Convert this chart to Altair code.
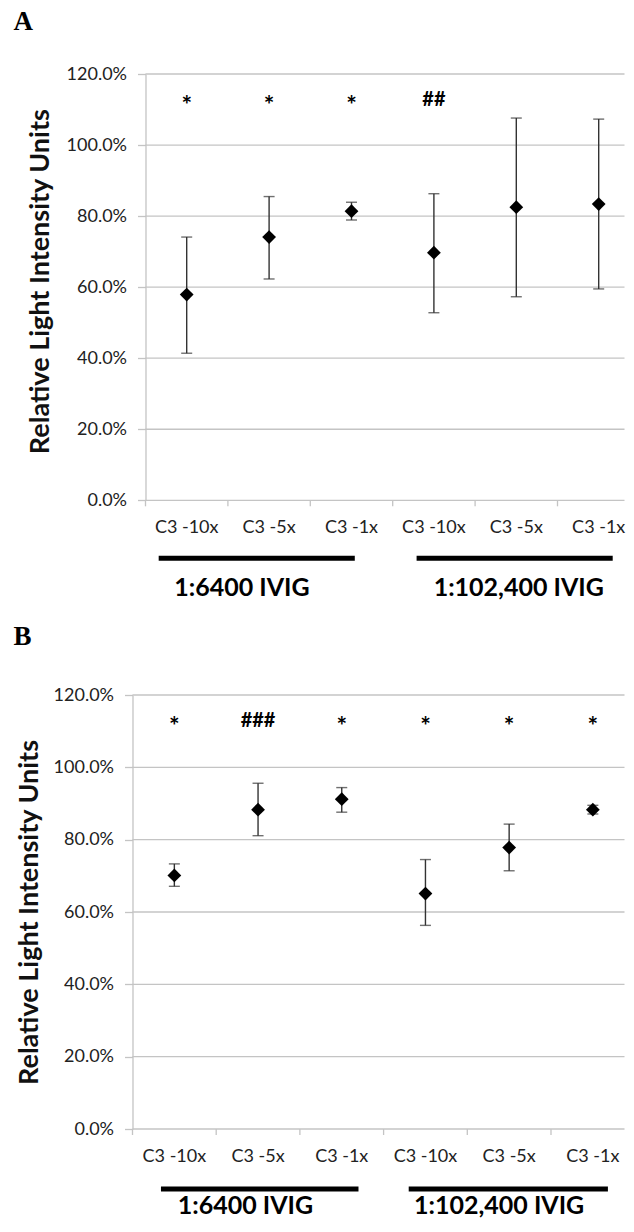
import altair as alt
import pandas as pd

LEVELS = ["C3 -10x", "C3 -5x", "C3 -1x"]
GROUPS = ["1:6400 IVIG", "1:102,400 IVIG"]

A_MEAN = [0.579, 0.741, 0.814, 0.697, 0.825, 0.834]
A_HIGH = [0.741, 0.855, 0.839, 0.863, 1.076, 1.073]
A_LOW = [0.414, 0.623, 0.789, 0.528, 0.573, 0.595]
A_MARK = ["*", "*", "*", "##", "", ""]

B_MEAN = [0.701, 0.883, 0.912, 0.651, 0.778, 0.883]
B_HIGH = [0.733, 0.956, 0.944, 0.745, 0.843, 0.895]
B_LOW = [0.671, 0.811, 0.876, 0.563, 0.714, 0.871]
B_MARK = ["*", "###", "*", "*", "*", "*"]

Y_TICKS = [0.0, 0.2, 0.4, 0.6, 0.8, 1.0, 1.2]
Y_TITLE = "Relative Light Intensity Units"
MARK_LEVEL = 1.13

KEYS = [f"{g}|{l}" for g in GROUPS for l in LEVELS]
KEY_LEVELS = [l for g in GROUPS for l in LEVELS]

GRID = "#c4c4c4"
ERR = "#333333"
FONT = "Lato"
W = 492


def panel(letter, mean, high, low, marks, shift, band, height, ytitle_x,
          ytitle_dy, bar_gap, label_gap, title_offset, bar_lead, bar_trail,
          label_at):
    df = pd.DataFrame({"key": KEYS, "level": KEY_LEVELS, "mean": mean,
                       "high": high, "low": low, "mark": marks})
    grid_df = pd.DataFrame({"v": Y_TICKS})
    grp_df = pd.DataFrame({"group": GROUPS, "first": [0, 3], "last": [2, 5],
                           "lead": bar_lead, "trail": bar_trail,
                           "at": label_at})

    xr = [shift, shift + 6 * band]
    bscale = alt.Scale(type="band", domain=KEYS, range=xr,
                       paddingInner=0, paddingOuter=0)
    qscale = alt.Scale(domain=[0, 6], range=xr, nice=False, zero=False)
    yscale = alt.Scale(domain=[0, 1.2], nice=False, zero=True)

    yaxis = alt.Axis(values=Y_TICKS, format=".1%", grid=False, offset=-shift,
                     domainColor=GRID, domainWidth=1.3, tickColor=GRID,
                     tickWidth=1.3, tickSize=8, labelFont=FONT,
                     labelFontSize=18, labelColor="#222222", labelPadding=11,
                     titleFont=FONT, titleFontSize=27, titleFontWeight="bold",
                     titleColor="#111111", titleX=ytitle_x,
                     titleY=height / 2 + ytitle_dy, titleBaseline="middle",
                     titleAlign="center", titleAngle=270)

    def Y(field):
        return alt.Y(field, scale=yscale, axis=yaxis, title=Y_TITLE)

    xb = alt.X("key:N", scale=bscale, axis=None)

    grid = alt.Chart(grid_df).mark_rule(color=GRID, strokeWidth=1.3).encode(
        x=alt.XDatum(0, type="quantitative", scale=qscale, axis=None),
        x2=alt.value("width"),
        y=Y("v:Q"),
    )
    base = alt.Chart(df)
    ticks = base.mark_rule(color=GRID, strokeWidth=1.3).encode(
        x=alt.X("key:N", scale=bscale, axis=None, bandPosition=0),
        y=alt.value(height), y2=alt.value(height + 6))
    xlabels = base.mark_text(font=FONT, fontSize=18, color="#222222",
                             baseline="top").encode(
        x=xb, y=alt.value(height + 19), text="level:N")
    err = base.mark_rule(color=ERR, strokeWidth=1.4).encode(
        x=xb, y=Y("low:Q"), y2="high:Q")
    caps = base.transform_fold(["high", "low"], as_=["end", "val"]).mark_tick(
        color=ERR, thickness=1.4, size=11, orient="horizontal").encode(
        x=xb, y=Y("val:Q"))
    pts = base.mark_point(shape="diamond", filled=True, size=190,
                          color="black", opacity=1).encode(
        x=xb, y=Y("mean:Q"))
    ydatum = alt.YDatum(MARK_LEVEL, type="quantitative", scale=yscale,
                        axis=yaxis, title=Y_TITLE)
    stars = base.transform_filter("datum.mark == '*'").mark_text(
        font=FONT, fontWeight="bold", fontSize=25, baseline="alphabetic",
        dy=15, color="black").encode(x=xb, y=ydatum, text="mark:N")
    hashes = base.transform_filter("indexof(datum.mark, '#') >= 0").mark_text(
        font=FONT, fontWeight="bold", fontSize=20, baseline="alphabetic",
        dy=7, color="black").encode(x=xb, y=ydatum, text="mark:N")

    grp = alt.Chart(grp_df).transform_calculate(
        start="datum.first + datum.lead", end="datum.last + 1 - datum.trail",
        mid="datum.first + datum.at")
    bars = grp.mark_rule(strokeWidth=5, color="black").encode(
        x=alt.X("start:Q", scale=qscale, axis=None), x2="end:Q",
        y=alt.value(height + bar_gap))
    labels = grp.mark_text(font=FONT, fontWeight="bold", fontSize=25,
                           baseline="middle", color="black").encode(
        x=alt.X("mid:Q", scale=qscale, axis=None),
        y=alt.value(height + label_gap), text="group:N")

    return alt.layer(grid, ticks, xlabels, err, caps, pts, stars, hashes,
                     bars, labels).resolve_scale(
        x="independent").properties(
        width=W, height=height,
        title=alt.TitleParams(letter, anchor="start", frame="group", dx=-119,
                              font="Liberation Serif", fontSize=27,
                              fontWeight="bold", color="black",
                              offset=title_offset))


pa = panel("A", A_MEAN, A_HIGH, A_LOW, A_MARK, shift=13, band=82.4,
           height=426.3, ytitle_x=-105.2, ytitle_dy=-6, bar_gap=58,
           label_gap=87.2, title_offset=29, bar_lead=[0.16, 0.29],
           bar_trail=[0.46, 0.33], label_at=[1.17, 1.53])
pb = panel("B", B_MEAN, B_HIGH, B_LOW, B_MARK, shift=0, band=83.7,
           height=434, ytitle_x=-103, ytitle_dy=0, bar_gap=60,
           label_gap=77, title_offset=35, bar_lead=[0.34, 0.30],
           bar_trail=[0.30, 0.32], label_at=[1.35, 1.38])

chart = alt.vconcat(pa, pb, spacing=22).properties(
    padding={"left": 5.5, "top": 0, "right": 0, "bottom": 0},
    background="white",
).configure_view(stroke=None)

chart.save("out.html", embed_options={"renderer": "svg", "actions": False})
